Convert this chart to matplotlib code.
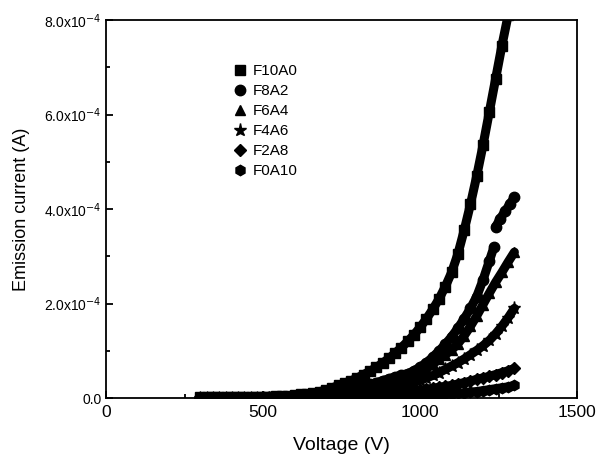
import matplotlib
matplotlib.use("Agg")
import matplotlib.pyplot as plt
from matplotlib.ticker import MultipleLocator, FuncFormatter

# voltage grid (V) shared by most samples
voltage = [300, 320, 340, 360, 380, 400, 420, 440, 460, 480,
           500, 520, 540, 560, 580, 600, 620, 640, 660, 680,
           700, 720, 740, 760, 780, 800, 820, 840, 860, 880,
           900, 920, 940, 960, 980, 1000, 1020, 1040, 1060, 1080,
           1100, 1120, 1140, 1160, 1180, 1200, 1220, 1240, 1260, 1280,
           1300]

# emission current in units of 1e-4 A
f10a0 = [0.02, 0.02, 0.02, 0.02, 0.02, 0.02, 0.02, 0.02, 0.03, 0.03,
         0.03, 0.03, 0.04, 0.04, 0.05, 0.06, 0.08, 0.09, 0.11, 0.14,
         0.17, 0.22, 0.27, 0.32, 0.37, 0.43, 0.50, 0.57, 0.65, 0.74,
         0.84, 0.95, 1.07, 1.20, 1.34, 1.50, 1.68, 1.88, 2.10, 2.36,
         2.66, 3.05, 3.55, 4.10, 4.70, 5.35, 6.05, 6.75, 7.45, 8.10,
         8.80]

# F8A2 jumps near 1240 V, so it keeps its own voltages (two runs)
voltage_f8a2 = [300, 320, 340, 360, 380, 400, 420, 440, 460, 480,
                500, 520, 540, 560, 580, 600, 620, 640, 660, 680,
                700, 720, 740, 760, 780, 800, 820, 840, 860, 880,
                900, 920, 940, 960, 980, 1000, 1020, 1040, 1060, 1080,
                1100, 1120, 1140, 1160, 1180, 1200, 1220, 1235]
f8a2 = [0.01, 0.01, 0.01, 0.01, 0.01, 0.01, 0.01, 0.01, 0.01, 0.01,
        0.02, 0.02, 0.02, 0.02, 0.03, 0.03, 0.04, 0.05, 0.06, 0.07,
        0.09, 0.11, 0.13, 0.16, 0.19, 0.22, 0.25, 0.29, 0.33, 0.37,
        0.41, 0.45, 0.49, 0.52, 0.58, 0.66, 0.75, 0.87, 1.00, 1.14,
        1.30, 1.48, 1.68, 1.90, 2.15, 2.50, 2.90, 3.20]
voltage_f8a2_b = [1240, 1255, 1270, 1285, 1300]
f8a2_b = [3.62, 3.80, 3.95, 4.10, 4.25]

f6a4 = [0.01, 0.01, 0.01, 0.01, 0.01, 0.01, 0.01, 0.01, 0.01, 0.01,
        0.01, 0.01, 0.01, 0.01, 0.01, 0.02, 0.02, 0.02, 0.03, 0.03,
        0.04, 0.05, 0.06, 0.07, 0.08, 0.10, 0.12, 0.14, 0.17, 0.20,
        0.24, 0.28, 0.33, 0.39, 0.46, 0.54, 0.62, 0.72, 0.82, 0.92,
        1.02, 1.15, 1.32, 1.52, 1.74, 1.98, 2.22, 2.45, 2.66, 2.88,
        3.09]

f4a6 = [0.01, 0.01, 0.01, 0.01, 0.01, 0.01, 0.01, 0.01, 0.01, 0.01,
        0.01, 0.01, 0.01, 0.01, 0.01, 0.01, 0.01, 0.02, 0.02, 0.02,
        0.03, 0.03, 0.04, 0.05, 0.06, 0.07, 0.08, 0.10, 0.12, 0.14,
        0.17, 0.20, 0.24, 0.28, 0.33, 0.38, 0.43, 0.48, 0.54, 0.61,
        0.68, 0.75, 0.83, 0.92, 1.01, 1.11, 1.22, 1.36, 1.52, 1.70,
        1.90]

f2a8 = [0.01, 0.01, 0.01, 0.01, 0.01, 0.01, 0.01, 0.01, 0.01, 0.01,
        0.01, 0.01, 0.01, 0.01, 0.01, 0.01, 0.01, 0.01, 0.01, 0.01,
        0.01, 0.02, 0.02, 0.02, 0.03, 0.03, 0.04, 0.05, 0.06, 0.07,
        0.08, 0.09, 0.11, 0.13, 0.15, 0.17, 0.19, 0.21, 0.23, 0.25,
        0.27, 0.30, 0.33, 0.36, 0.40, 0.43, 0.46, 0.50, 0.54, 0.58,
        0.63]

f0a10 = [0.01, 0.01, 0.01, 0.01, 0.01, 0.01, 0.01, 0.01, 0.01, 0.01,
         0.01, 0.01, 0.01, 0.01, 0.01, 0.01, 0.01, 0.01, 0.01, 0.01,
         0.01, 0.01, 0.01, 0.01, 0.01, 0.01, 0.01, 0.01, 0.01, 0.01,
         0.01, 0.02, 0.02, 0.03, 0.03, 0.04, 0.05, 0.06, 0.07, 0.08,
         0.09, 0.10, 0.11, 0.13, 0.14, 0.16, 0.18, 0.20, 0.22, 0.24,
         0.27]

labels = ["F10A0", "F8A2", "F6A4", "F4A6", "F2A8", "F0A10"]
markers = ["s", "o", "^", "*", "D", "h"]
sizes = [7, 7.5, 7.5, 9.5, 6, 7.5]

plt.rcParams["font.family"] = ["Liberation Sans", "DejaVu Sans"]

fig = plt.figure(figsize=(6.0, 4.54), dpi=100)
ax = fig.add_axes([0.177, 0.123, 0.785, 0.833])

series = [
    (voltage, f10a0), (voltage_f8a2, f8a2), (voltage, f6a4),
    (voltage, f4a6), (voltage, f2a8), (voltage, f0a10),
]
for (x, y), lab, m, s in zip(series, labels, markers, sizes):
    # dense measurement points merge into a thick band
    ax.plot(x, [v * 1e-4 for v in y], color="black", linewidth=6.5,
            solid_capstyle="round")
    ax.plot(x, [v * 1e-4 for v in y], linestyle="none", marker=m,
            markersize=s, color="black", label=lab)

ax.plot(voltage_f8a2_b, [v * 1e-4 for v in f8a2_b], color="black",
        linewidth=6.5, solid_capstyle="round")
ax.plot(voltage_f8a2_b, [v * 1e-4 for v in f8a2_b], linestyle="none",
        marker="o", markersize=7.5, color="black")

ax.set_xlim(0, 1500)
ax.set_ylim(0, 8e-4)
ax.xaxis.set_major_locator(MultipleLocator(500))
ax.xaxis.set_minor_locator(MultipleLocator(250))
ax.yaxis.set_major_locator(MultipleLocator(2e-4))
ax.yaxis.set_minor_locator(MultipleLocator(1e-4))


def sci_fmt(v, pos):
    if abs(v) < 1e-12:
        return "0.0"
    return r"%.1fx10$^{-4}$" % (v / 1e-4)


ax.yaxis.set_major_formatter(FuncFormatter(sci_fmt))
ax.tick_params(which="both", direction="in", top=False, right=False, width=1.3)
ax.tick_params(which="major", length=5)
ax.tick_params(which="minor", length=3)
ax.tick_params(axis="x", labelsize=12.5, pad=5)
ax.tick_params(axis="y", labelsize=10)
for sp in ax.spines.values():
    sp.set_linewidth(1.3)

ax.set_xlabel("Voltage (V)", fontsize=14, labelpad=12)
ax.set_ylabel("Emission current (A)", fontsize=13, labelpad=10)

ax.legend(loc="upper left", bbox_to_anchor=(0.255, 0.90), frameon=False,
          fontsize=11, handletextpad=0.35, labelspacing=0.4, numpoints=1,
          handlelength=1.0, borderaxespad=0)

fig.savefig("out.png", dpi=100)
